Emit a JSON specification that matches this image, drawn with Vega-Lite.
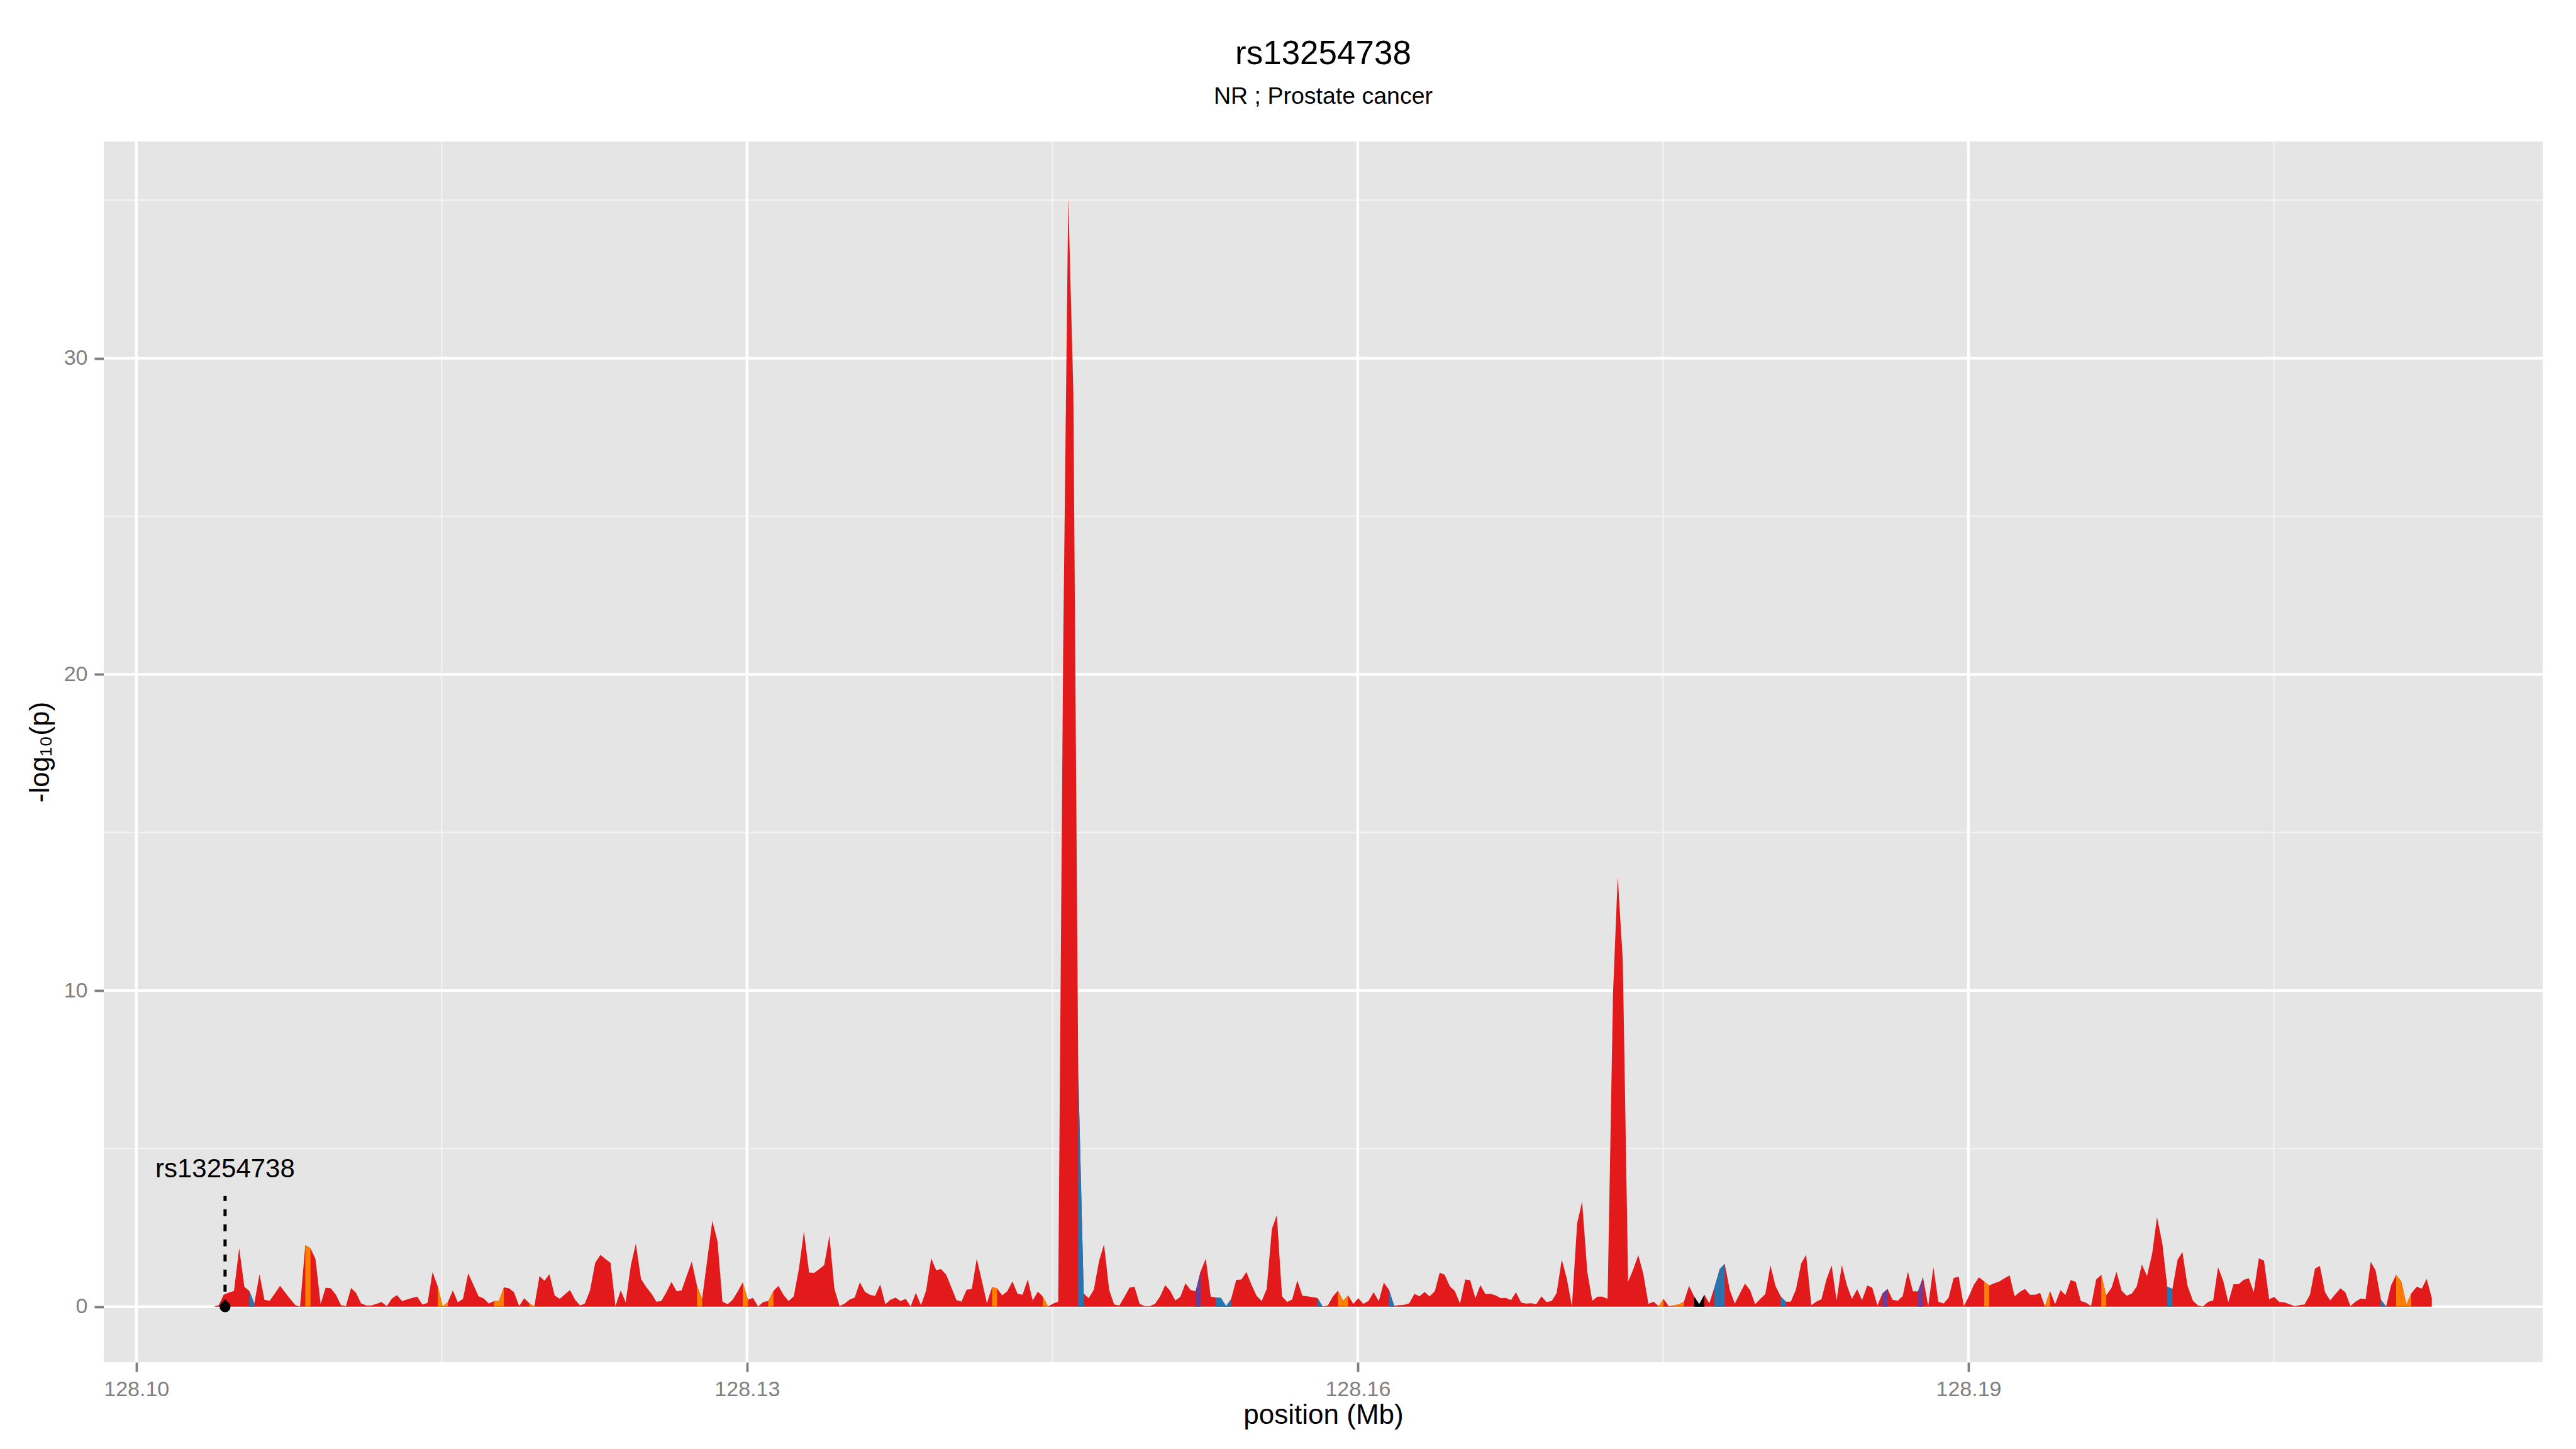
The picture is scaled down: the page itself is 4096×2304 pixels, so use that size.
{
"$schema": "https://vega.github.io/schema/vega-lite/v6.json",
"width": 3878, "height": 1941,
"autosize": {"type": "none"},
"padding": {"left": 165, "top": 225, "right": 53, "bottom": 138},
"background": "white",
"title": {"text": "rs13254738", "subtitle": "NR ; Prostate cancer", "anchor": "middle", "frame": "group", "font": "Liberation Sans", "fontSize": 53, "fontWeight": "normal", "color": "#000000", "subtitleFont": "Liberation Sans", "subtitleFontSize": 37.5, "subtitleColor": "#000000", "subtitlePadding": 22, "offset": 50},
"config": {
  "view": {"fill": "#E5E5E5", "stroke": null},
  "axis": {"domain": false, "grid": false, "ticks": true, "tickColor": "#7F7F7F", "tickWidth": 3.8, "tickSize": 15, "labelColor": "#7F7F7F", "labelFont": "Liberation Sans", "labelFontSize": 34, "labelPadding": 11, "labelFlush": false, "titleFont": "Liberation Sans", "titleFontSize": 44, "titleFontWeight": "normal", "titleColor": "#000000"},
  "axisX": {"titlePadding": 2},
  "axisY": {"titlePadding": 15}
},
"datasets": {
"vgrid": [{"pos":128.115,"kind":"minor"},{"pos":128.145,"kind":"minor"},{"pos":128.175,"kind":"minor"},{"pos":128.205,"kind":"minor"},{"pos":128.10,"kind":"major"},{"pos":128.13,"kind":"major"},{"pos":128.16,"kind":"major"},{"pos":128.19,"kind":"major"}],
"hgrid": [{"p":5,"kind":"minor"},{"p":15,"kind":"minor"},{"p":25,"kind":"minor"},{"p":35,"kind":"minor"},{"p":0,"kind":"major"},{"p":10,"kind":"major"},{"p":20,"kind":"major"},{"p":30,"kind":"major"}],
"snp": [{"pos":128.10436,"p":0,"ptop":3.5,"plab":4.1,"label":"rs13254738"}],
"main": [
{"pos":128.103847,"p":0.02},{"pos":128.104056,"p":0.05},{"pos":128.104288,"p":0.38},{"pos":128.104543,"p":0.45},{"pos":128.104798,"p":0.50},{"pos":128.105053,"p":1.85},{"pos":128.105308,"p":0.63},{"pos":128.105552,"p":0.50},{"pos":128.105795,"p":0.10},{"pos":128.106051,"p":1.03},{"pos":128.106294,"p":0.22},{"pos":128.106549,"p":0.19},{"pos":128.106804,"p":0.42},{"pos":128.107060,"p":0.66},{"pos":128.107315,"p":0.45},{"pos":128.107558,"p":0.25},{"pos":128.107813,"p":0.05},{"pos":128.108045,"p":0.01},{"pos":128.108301,"p":1.95},{"pos":128.108556,"p":1.85},{"pos":128.108799,"p":1.51},{"pos":128.109054,"p":0.08},{"pos":128.109298,"p":0.60},{"pos":128.109553,"p":0.58},{"pos":128.109808,"p":0.38},{"pos":128.110052,"p":0.05},{"pos":128.110295,"p":0.02},{"pos":128.110551,"p":0.59},{"pos":128.110794,"p":0.44},{"pos":128.111038,"p":0.11},{"pos":128.111293,"p":0.04},{"pos":128.111548,"p":0.04},{"pos":128.111803,"p":0.09},{"pos":128.112047,"p":0.15},{"pos":128.112302,"p":0.02},{"pos":128.112557,"p":0.26},{"pos":128.112801,"p":0.37},{"pos":128.113056,"p":0.18},{"pos":128.113299,"p":0.23},{"pos":128.113554,"p":0.28},{"pos":128.113798,"p":0.32},{"pos":128.114053,"p":0.07},{"pos":128.114308,"p":0.12},{"pos":128.114552,"p":1.10},{"pos":128.114807,"p":0.64},{"pos":128.115051,"p":0.01},{"pos":128.115306,"p":0.15},{"pos":128.115549,"p":0.52},{"pos":128.115793,"p":0.14},{"pos":128.116048,"p":0.25},{"pos":128.116303,"p":1.06},{"pos":128.116558,"p":0.69},{"pos":128.116814,"p":0.33},{"pos":128.117069,"p":0.26},{"pos":128.117312,"p":0.10},{"pos":128.117567,"p":0.18},{"pos":128.117811,"p":0.18},{"pos":128.118054,"p":0.61},{"pos":128.118310,"p":0.58},{"pos":128.118553,"p":0.46},{"pos":128.118808,"p":0.02},{"pos":128.119052,"p":0.27},{"pos":128.119307,"p":0.11},{"pos":128.119551,"p":0.01},{"pos":128.119806,"p":0.97},{"pos":128.120049,"p":0.82},{"pos":128.120293,"p":1.03},{"pos":128.120548,"p":0.36},{"pos":128.120803,"p":0.25},{"pos":128.121047,"p":0.39},{"pos":128.121302,"p":0.53},{"pos":128.121557,"p":0.22},{"pos":128.121800,"p":0.04},{"pos":128.122033,"p":0.10},
{"pos":128.122287,"p":0.52},{"pos":128.122542,"p":1.39},{"pos":128.122797,"p":1.64},{"pos":128.123041,"p":1.51},{"pos":128.123296,"p":1.39},{"pos":128.123539,"p":0.02},{"pos":128.123795,"p":0.52},{"pos":128.124038,"p":0.14},{"pos":128.124293,"p":1.31},{"pos":128.124537,"p":2.00},{"pos":128.124792,"p":0.88},{"pos":128.125047,"p":0.62},{"pos":128.125302,"p":0.42},{"pos":128.125546,"p":0.16},{"pos":128.125789,"p":0.18},{"pos":128.126045,"p":0.47},{"pos":128.126288,"p":0.78},{"pos":128.126543,"p":0.49},{"pos":128.126787,"p":0.52},{"pos":128.127042,"p":0.99},{"pos":128.127286,"p":1.43},{"pos":128.127541,"p":0.66},{"pos":128.127796,"p":0.25},{"pos":128.128295,"p":2.72},{"pos":128.128550,"p":2.07},{"pos":128.128793,"p":0.16},{"pos":128.129049,"p":0.08},{"pos":128.129292,"p":0.22},{"pos":128.129547,"p":0.49},{"pos":128.129791,"p":0.77},{"pos":128.130046,"p":0.22},{"pos":128.130289,"p":0.28},{"pos":128.130545,"p":0.01},{"pos":128.130800,"p":0.15},{"pos":128.131043,"p":0.18},{"pos":128.131298,"p":0.50},{"pos":128.131542,"p":0.66},{"pos":128.131797,"p":0.37},{"pos":128.132041,"p":0.18},{"pos":128.132296,"p":0.33},{"pos":128.132551,"p":1.21},{"pos":128.132795,"p":2.38},{"pos":128.133050,"p":1.08},{"pos":128.133293,"p":1.07},{"pos":128.133549,"p":1.19},{"pos":128.133792,"p":1.32},{"pos":128.134047,"p":2.25},{"pos":128.134291,"p":0.57},{"pos":128.134546,"p":0.02},{"pos":128.134801,"p":0.10},{"pos":128.135045,"p":0.23},{"pos":128.135288,"p":0.29},{"pos":128.135543,"p":0.77},{"pos":128.135798,"p":0.47},{"pos":128.136042,"p":0.38},{"pos":128.136285,"p":0.34},{"pos":128.136541,"p":0.70},{"pos":128.136796,"p":0.08},{"pos":128.137040,"p":0.22},{"pos":128.137295,"p":0.29},{"pos":128.137538,"p":0.18},{"pos":128.137793,"p":0.25},{"pos":128.138037,"p":0.01},{"pos":128.138292,"p":0.44},{"pos":128.138547,"p":0.05},{"pos":128.138791,"p":0.50},{"pos":128.139046,"p":1.53},{"pos":128.139290,"p":1.16},{"pos":128.139533,"p":1.19},{"pos":128.139788,"p":1.01},
{"pos":128.140032,"p":0.62},{"pos":128.140287,"p":0.21},{"pos":128.140531,"p":0.16},{"pos":128.140786,"p":0.54},{"pos":128.141041,"p":0.56},{"pos":128.141285,"p":1.52},{"pos":128.141540,"p":0.81},{"pos":128.141783,"p":0.11},{"pos":128.142038,"p":0.62},{"pos":128.142282,"p":0.58},{"pos":128.142537,"p":0.36},{"pos":128.142781,"p":0.49},{"pos":128.143036,"p":0.80},{"pos":128.143291,"p":0.41},{"pos":128.143535,"p":0.38},{"pos":128.143790,"p":0.86},{"pos":128.144033,"p":0.20},{"pos":128.144288,"p":0.48},{"pos":128.144532,"p":0.32},{"pos":128.144787,"p":0.01},{"pos":128.145042,"p":0.10},{"pos":128.145286,"p":0.16},{"pos":128.145530,"p":20.8},{"pos":128.145780,"p":35.1},{"pos":128.146030,"p":28.9},{"pos":128.146270,"p":7.46},{"pos":128.146538,"p":0.42},{"pos":128.146782,"p":0.27},{"pos":128.147037,"p":0.54},{"pos":128.147292,"p":1.45},{"pos":128.147536,"p":1.97},{"pos":128.147791,"p":0.53},{"pos":128.148035,"p":0.07},{"pos":128.148290,"p":0.04},{"pos":128.148545,"p":0.32},{"pos":128.148788,"p":0.60},{"pos":128.149032,"p":0.63},{"pos":128.149287,"p":0.09},{"pos":128.149542,"p":0.02},{"pos":128.149786,"p":0.02},{"pos":128.150041,"p":0.09},{"pos":128.150285,"p":0.32},{"pos":128.150540,"p":0.68},{"pos":128.150783,"p":0.51},{"pos":128.151038,"p":0.20},{"pos":128.151282,"p":0.31},{"pos":128.151537,"p":0.74},{"pos":128.151792,"p":0.53},{"pos":128.152036,"p":0.49},{"pos":128.152279,"p":1.11},{"pos":128.152535,"p":1.52},{"pos":128.152778,"p":0.32},{"pos":128.153033,"p":0.29},{"pos":128.153277,"p":0.28},{"pos":128.153532,"p":0.02},{"pos":128.153776,"p":0.24},{"pos":128.154031,"p":0.85},{"pos":128.154286,"p":0.86},{"pos":128.154529,"p":1.10},{"pos":128.154784,"p":0.69},{"pos":128.155028,"p":0.35},{"pos":128.155283,"p":0.18},{"pos":128.155527,"p":0.56},{"pos":128.155782,"p":2.46},{"pos":128.156026,"p":2.90},{"pos":128.156281,"p":0.33},{"pos":128.156536,"p":0.15},{"pos":128.156779,"p":0.23},{"pos":128.157034,"p":0.83},{"pos":128.157278,"p":0.35},{"pos":128.157533,"p":0.33},
{"pos":128.158020,"p":0.28},{"pos":128.158275,"p":0.01},{"pos":128.158530,"p":0.04},{"pos":128.158773,"p":0.32},{"pos":128.159029,"p":0.51},{"pos":128.159284,"p":0.19},{"pos":128.159527,"p":0.36},{"pos":128.159782,"p":0.09},{"pos":128.160026,"p":0.27},{"pos":128.160281,"p":0.09},{"pos":128.160536,"p":0.19},{"pos":128.160780,"p":0.46},{"pos":128.161035,"p":0.18},{"pos":128.161279,"p":0.76},{"pos":128.161534,"p":0.54},{"pos":128.161789,"p":0.03},{"pos":128.162032,"p":0.05},{"pos":128.162288,"p":0.06},{"pos":128.162531,"p":0.11},{"pos":128.162786,"p":0.41},{"pos":128.163030,"p":0.33},{"pos":128.163285,"p":0.47},{"pos":128.163529,"p":0.33},{"pos":128.163784,"p":0.49},{"pos":128.164027,"p":1.08},{"pos":128.164271,"p":1.01},{"pos":128.164526,"p":0.64},{"pos":128.164770,"p":0.50},{"pos":128.165025,"p":0.10},{"pos":128.165280,"p":0.86},{"pos":128.165523,"p":0.84},{"pos":128.165779,"p":0.27},{"pos":128.166022,"p":0.68},{"pos":128.166277,"p":0.40},{"pos":128.166533,"p":0.41},{"pos":128.166776,"p":0.36},{"pos":128.167031,"p":0.27},{"pos":128.167275,"p":0.28},{"pos":128.167530,"p":0.21},{"pos":128.167773,"p":0.46},{"pos":128.168028,"p":0.13},{"pos":128.168272,"p":0.10},{"pos":128.168527,"p":0.11},{"pos":128.168771,"p":0.08},{"pos":128.169026,"p":0.33},{"pos":128.169270,"p":0.15},{"pos":128.169525,"p":0.18},{"pos":128.169768,"p":0.43},{"pos":128.170023,"p":1.49},{"pos":128.170267,"p":0.90},{"pos":128.170522,"p":0.01},{"pos":128.170777,"p":2.63},{"pos":128.171021,"p":3.33},{"pos":128.171276,"p":1.11},{"pos":128.171520,"p":0.19},{"pos":128.171775,"p":0.32},{"pos":128.172019,"p":0.32},{"pos":128.172273,"p":0.25},{"pos":128.172540,"p":9.9},{"pos":128.172770,"p":13.6},{"pos":128.173020,"p":10.97},{"pos":128.173282,"p":0.79},{"pos":128.173526,"p":1.17},{"pos":128.173781,"p":1.63},{"pos":128.174025,"p":1.05},{"pos":128.174280,"p":0.09},{"pos":128.174535,"p":0.16},{"pos":128.174778,"p":0.02},{"pos":128.175022,"p":0.25},{"pos":128.175277,"p":0.02},
{"pos":128.175520,"p":0.04},{"pos":128.175775,"p":0.08},{"pos":128.176019,"p":0.15},{"pos":128.176274,"p":0.66},{"pos":128.176529,"p":0.32},{"pos":128.176773,"p":0.08},{"pos":128.177028,"p":0.38},{"pos":128.177271,"p":0.11},{"pos":128.177526,"p":0.62},{"pos":128.177782,"p":1.19},{"pos":128.178025,"p":1.36},{"pos":128.178280,"p":0.52},{"pos":128.178524,"p":0.10},{"pos":128.178779,"p":0.43},{"pos":128.179023,"p":0.73},{"pos":128.179278,"p":0.52},{"pos":128.179521,"p":0.08},{"pos":128.179776,"p":0.25},{"pos":128.180020,"p":0.40},{"pos":128.180275,"p":1.31},{"pos":128.180519,"p":0.66},{"pos":128.180774,"p":0.33},{"pos":128.181029,"p":0.16},{"pos":128.181273,"p":0.16},{"pos":128.181528,"p":0.55},{"pos":128.181783,"p":1.37},{"pos":128.182026,"p":1.64},{"pos":128.182282,"p":0.05},{"pos":128.182525,"p":0.16},{"pos":128.182780,"p":0.24},{"pos":128.183024,"p":0.86},{"pos":128.183279,"p":1.31},{"pos":128.183523,"p":0.20},{"pos":128.183778,"p":1.32},{"pos":128.184033,"p":0.67},{"pos":128.184277,"p":0.25},{"pos":128.184532,"p":0.55},{"pos":128.184775,"p":0.21},{"pos":128.185030,"p":0.67},{"pos":128.185274,"p":0.60},{"pos":128.185529,"p":0.04},{"pos":128.185773,"p":0.42},{"pos":128.186028,"p":0.56},{"pos":128.186271,"p":0.22},{"pos":128.186527,"p":0.19},{"pos":128.186770,"p":0.34},{"pos":128.187025,"p":1.11},{"pos":128.187269,"p":0.49},{"pos":128.187524,"p":0.49},{"pos":128.187767,"p":0.93},{"pos":128.188023,"p":0.02},{"pos":128.188278,"p":1.25},{"pos":128.188521,"p":0.16},{"pos":128.188777,"p":0.10},{"pos":128.189020,"p":0.28},{"pos":128.189275,"p":0.91},{"pos":128.189519,"p":0.95},{"pos":128.189774,"p":0.02},{"pos":128.190018,"p":0.33},{"pos":128.190273,"p":0.70},{"pos":128.190516,"p":0.93},{"pos":128.190771,"p":0.80},{"pos":128.191015,"p":0.67},{"pos":128.191270,"p":0.74},{"pos":128.191525,"p":0.80},{"pos":128.191769,"p":0.90},{"pos":128.192024,"p":0.99},{"pos":128.192267,"p":0.33},{"pos":128.192523,"p":0.47},{"pos":128.192778,"p":0.56},{"pos":128.193021,"p":0.38},{"pos":128.193277,"p":0.38},{"pos":128.193520,"p":0.44},
{"pos":128.193754,"p":0.01},{"pos":128.194006,"p":0.50},{"pos":128.194258,"p":0.08},{"pos":128.194523,"p":0.53},{"pos":128.194762,"p":0.37},{"pos":128.195015,"p":0.84},{"pos":128.195267,"p":0.79},{"pos":128.195519,"p":0.18},{"pos":128.195771,"p":0.13},{"pos":128.196023,"p":0.02},{"pos":128.196275,"p":0.86},{"pos":128.196527,"p":1.01},{"pos":128.196766,"p":0.36},{"pos":128.197031,"p":0.60},{"pos":128.197271,"p":1.11},{"pos":128.197523,"p":0.51},{"pos":128.197775,"p":0.35},{"pos":128.198027,"p":0.42},{"pos":128.198266,"p":0.64},{"pos":128.198518,"p":1.34},{"pos":128.198770,"p":0.97},{"pos":128.199023,"p":1.67},{"pos":128.199262,"p":2.83},{"pos":128.199526,"p":2.00},{"pos":128.199766,"p":0.63},{"pos":128.200018,"p":0.56},{"pos":128.200270,"p":1.48},{"pos":128.200510,"p":1.73},{"pos":128.200762,"p":0.66},{"pos":128.201027,"p":0.19},{"pos":128.201279,"p":0.04},{"pos":128.201518,"p":0.01},{"pos":128.201770,"p":0.15},{"pos":128.202022,"p":0.20},{"pos":128.202262,"p":1.25},{"pos":128.202514,"p":0.82},{"pos":128.202766,"p":0.14},{"pos":128.203018,"p":0.71},{"pos":128.203270,"p":0.71},{"pos":128.203522,"p":0.85},{"pos":128.203774,"p":0.90},{"pos":128.204014,"p":0.46},{"pos":128.204266,"p":1.53},{"pos":128.204518,"p":1.46},{"pos":128.204770,"p":0.24},{"pos":128.205022,"p":0.31},{"pos":128.205274,"p":0.15},{"pos":128.205513,"p":0.14},{"pos":128.205766,"p":0.08},{"pos":128.206018,"p":0.02},{"pos":128.206270,"p":0.05},{"pos":128.206509,"p":0.07},{"pos":128.206774,"p":0.38},{"pos":128.207026,"p":1.21},{"pos":128.207265,"p":1.29},{"pos":128.207517,"p":0.46},{"pos":128.207769,"p":0.20},{"pos":128.208022,"p":0.40},{"pos":128.208274,"p":0.58},{"pos":128.208513,"p":0.46},{"pos":128.208765,"p":0.02},{"pos":128.209017,"p":0.16},{"pos":128.209269,"p":0.26},{"pos":128.209509,"p":0.24},{"pos":128.209761,"p":1.42},{"pos":128.210000,"p":1.15},{"pos":128.210265,"p":0.22},{"pos":128.210517,"p":0.01},{"pos":128.210757,"p":0.67},{"pos":128.211009,"p":1.01},{"pos":128.211261,"p":0.80},{"pos":128.211513,"p":0.08},{"pos":128.211752,"p":0.42},{"pos":128.212017,"p":0.63},{"pos":128.212269,"p":0.57},{"pos":128.212508,"p":0.88},{"pos":128.212761,"p":0.28}
],
"segs": [
{"seg":1,"ld":"blue","pos":128.105552,"p":0.50},{"seg":1,"ld":"blue","pos":128.105795,"p":0.10},
{"seg":2,"ld":"orange","pos":128.108301,"p":1.95},{"seg":2,"ld":"orange","pos":128.108556,"p":1.85},
{"seg":3,"ld":"orange","pos":128.114807,"p":0.64},{"seg":3,"ld":"orange","pos":128.115051,"p":0.01},
{"seg":4,"ld":"orange","pos":128.115051,"p":0.01},{"seg":4,"ld":"orange","pos":128.115306,"p":0.15},
{"seg":5,"ld":"orange","pos":128.117567,"p":0.18},{"seg":5,"ld":"orange","pos":128.117811,"p":0.18},
{"seg":6,"ld":"orange","pos":128.117811,"p":0.18},{"seg":6,"ld":"orange","pos":128.118054,"p":0.61},
{"seg":7,"ld":"orange","pos":128.119307,"p":0.11},{"seg":7,"ld":"orange","pos":128.119551,"p":0.01},
{"seg":8,"ld":"orange","pos":128.127541,"p":0.66},{"seg":8,"ld":"orange","pos":128.127796,"p":0.25},
{"seg":9,"ld":"orange","pos":128.129791,"p":0.77},{"seg":9,"ld":"orange","pos":128.130046,"p":0.22},
{"seg":10,"ld":"orange","pos":128.131043,"p":0.18},{"seg":10,"ld":"orange","pos":128.131298,"p":0.50},
{"seg":11,"ld":"orange","pos":128.142038,"p":0.62},{"seg":11,"ld":"orange","pos":128.142282,"p":0.58},
{"seg":12,"ld":"orange","pos":128.144532,"p":0.32},{"seg":12,"ld":"orange","pos":128.144787,"p":0.01},
{"seg":13,"ld":"blue","pos":128.146270,"p":7.46},{"seg":13,"ld":"blue","pos":128.146538,"p":0.42},
{"seg":14,"ld":"purple","pos":128.152036,"p":0.49},{"seg":14,"ld":"purple","pos":128.152279,"p":1.11},
{"seg":15,"ld":"blue","pos":128.153033,"p":0.29},{"seg":15,"ld":"blue","pos":128.153277,"p":0.28},
{"seg":16,"ld":"blue","pos":128.153277,"p":0.28},{"seg":16,"ld":"blue","pos":128.153532,"p":0.02},
{"seg":17,"ld":"blue","pos":128.153532,"p":0.02},{"seg":17,"ld":"blue","pos":128.153776,"p":0.24},
{"seg":18,"ld":"blue","pos":128.158020,"p":0.28},{"seg":18,"ld":"blue","pos":128.158275,"p":0.01},
{"seg":19,"ld":"orange","pos":128.159029,"p":0.51},{"seg":19,"ld":"orange","pos":128.159284,"p":0.19},
{"seg":20,"ld":"orange","pos":128.159284,"p":0.19},{"seg":20,"ld":"orange","pos":128.159527,"p":0.36},
{"seg":21,"ld":"blue","pos":128.161534,"p":0.54},{"seg":21,"ld":"blue","pos":128.161789,"p":0.03},
{"seg":22,"ld":"orange","pos":128.174778,"p":0.02},{"seg":22,"ld":"orange","pos":128.175022,"p":0.25},
{"seg":23,"ld":"orange","pos":128.175520,"p":0.04},{"seg":23,"ld":"orange","pos":128.175775,"p":0.08},
{"seg":24,"ld":"orange","pos":128.175775,"p":0.08},{"seg":24,"ld":"orange","pos":128.176019,"p":0.15},
{"seg":25,"ld":"black","pos":128.176529,"p":0.32},{"seg":25,"ld":"black","pos":128.176773,"p":0.08},
{"seg":26,"ld":"black","pos":128.176773,"p":0.08},{"seg":26,"ld":"black","pos":128.177028,"p":0.38},
{"seg":27,"ld":"blue","pos":128.177526,"p":0.62},{"seg":27,"ld":"blue","pos":128.177782,"p":1.19},
{"seg":28,"ld":"blue","pos":128.177782,"p":1.19},{"seg":28,"ld":"blue","pos":128.178025,"p":1.36},
{"seg":29,"ld":"blue","pos":128.180774,"p":0.33},{"seg":29,"ld":"blue","pos":128.181029,"p":0.16},
{"seg":30,"ld":"purple","pos":128.185773,"p":0.42},{"seg":30,"ld":"purple","pos":128.186028,"p":0.56},
{"seg":31,"ld":"purple","pos":128.187524,"p":0.49},{"seg":31,"ld":"purple","pos":128.187767,"p":0.93},
{"seg":32,"ld":"orange","pos":128.190771,"p":0.80},{"seg":32,"ld":"orange","pos":128.191015,"p":0.67},
{"seg":33,"ld":"orange","pos":128.193754,"p":0.01},{"seg":33,"ld":"orange","pos":128.194006,"p":0.50},
{"seg":34,"ld":"orange","pos":128.196527,"p":1.01},{"seg":34,"ld":"orange","pos":128.196766,"p":0.36},
{"seg":35,"ld":"blue","pos":128.199766,"p":0.63},{"seg":35,"ld":"blue","pos":128.200018,"p":0.56},
{"seg":36,"ld":"blue","pos":128.210265,"p":0.22},{"seg":36,"ld":"blue","pos":128.210517,"p":0.01},
{"seg":37,"ld":"orange","pos":128.211009,"p":1.01},{"seg":37,"ld":"orange","pos":128.211261,"p":0.80},
{"seg":38,"ld":"orange","pos":128.211261,"p":0.80},{"seg":38,"ld":"orange","pos":128.211513,"p":0.08},
{"seg":39,"ld":"orange","pos":128.211513,"p":0.08},{"seg":39,"ld":"orange","pos":128.211752,"p":0.42}
]
},
"layer": [
{"data": {"name": "vgrid"}, "transform": [{"filter": "datum.kind == 'minor'"}],
 "mark": {"type": "rule", "color": "#F2F2F2", "strokeWidth": 2.3},
 "encoding": {"x": {"field": "pos", "type": "quantitative", "title": "position (Mb)", "scale": {"domain": [128.098401, 128.218207], "nice": false, "zero": false}, "axis": {"values": [128.10, 128.13, 128.16, 128.19], "format": ".2f", "title": "position (Mb)"}}}},
{"data": {"name": "hgrid"}, "transform": [{"filter": "datum.kind == 'minor'"}],
 "mark": {"type": "rule", "color": "#F2F2F2", "strokeWidth": 2.3},
 "encoding": {"y": {"field": "p", "type": "quantitative", "title": "-log₁₀(p)", "scale": {"domain": [-1.755, 36.855], "nice": false, "zero": false}, "axis": {"values": [0, 10, 20, 30], "format": "d", "title": "-log₁₀(p)"}}}},
{"data": {"name": "vgrid"}, "transform": [{"filter": "datum.kind == 'major'"}],
 "mark": {"type": "rule", "color": "#FFFFFF", "strokeWidth": 4.3},
 "encoding": {"x": {"field": "pos", "type": "quantitative", "title": "position (Mb)"}}},
{"data": {"name": "hgrid"}, "transform": [{"filter": "datum.kind == 'major'"}],
 "mark": {"type": "rule", "color": "#FFFFFF", "strokeWidth": 4.3},
 "encoding": {"y": {"field": "p", "type": "quantitative", "title": "-log₁₀(p)"}}},
{"data": {"name": "main"},
 "mark": {"type": "area", "color": "#E31A1C", "interpolate": "linear"},
 "encoding": {
   "x": {"field": "pos", "type": "quantitative", "title": "position (Mb)"},
   "y": {"field": "p", "type": "quantitative", "stack": null, "title": "-log₁₀(p)"},
   "y2": {"datum": 0}}},
{"data": {"name": "segs"},
 "mark": {"type": "area", "interpolate": "linear"},
 "encoding": {
   "x": {"field": "pos", "type": "quantitative", "title": "position (Mb)"},
   "y": {"field": "p", "type": "quantitative", "stack": null, "title": "-log₁₀(p)"},
   "y2": {"datum": 0},
   "detail": {"field": "seg", "type": "nominal"},
   "color": {"field": "ld", "type": "nominal", "scale": {"domain": ["blue", "orange", "purple", "black"], "range": ["#1F78B4", "#FF7F00", "#6A3D9A", "#000000"]}, "legend": null}}},
{"data": {"name": "snp"},
 "mark": {"type": "rule", "color": "#000000", "strokeWidth": 5, "strokeDash": [11, 13]},
 "encoding": {
   "x": {"field": "pos", "type": "quantitative", "title": "position (Mb)"},
   "y": {"field": "p", "type": "quantitative", "title": "-log₁₀(p)"},
   "y2": {"field": "ptop"}}},
{"data": {"name": "snp"},
 "mark": {"type": "circle", "color": "#000000", "size": 300, "opacity": 1},
 "encoding": {
   "x": {"field": "pos", "type": "quantitative", "title": "position (Mb)"},
   "y": {"field": "p", "type": "quantitative", "title": "-log₁₀(p)"}}},
{"data": {"name": "snp"},
 "mark": {"type": "text", "font": "Liberation Sans", "fontSize": 42, "align": "center", "baseline": "alphabetic", "color": "#000000"},
 "encoding": {
   "x": {"field": "pos", "type": "quantitative", "title": "position (Mb)"},
   "y": {"field": "plab", "type": "quantitative", "title": "-log₁₀(p)"},
   "text": {"field": "label"}}}
]
}
